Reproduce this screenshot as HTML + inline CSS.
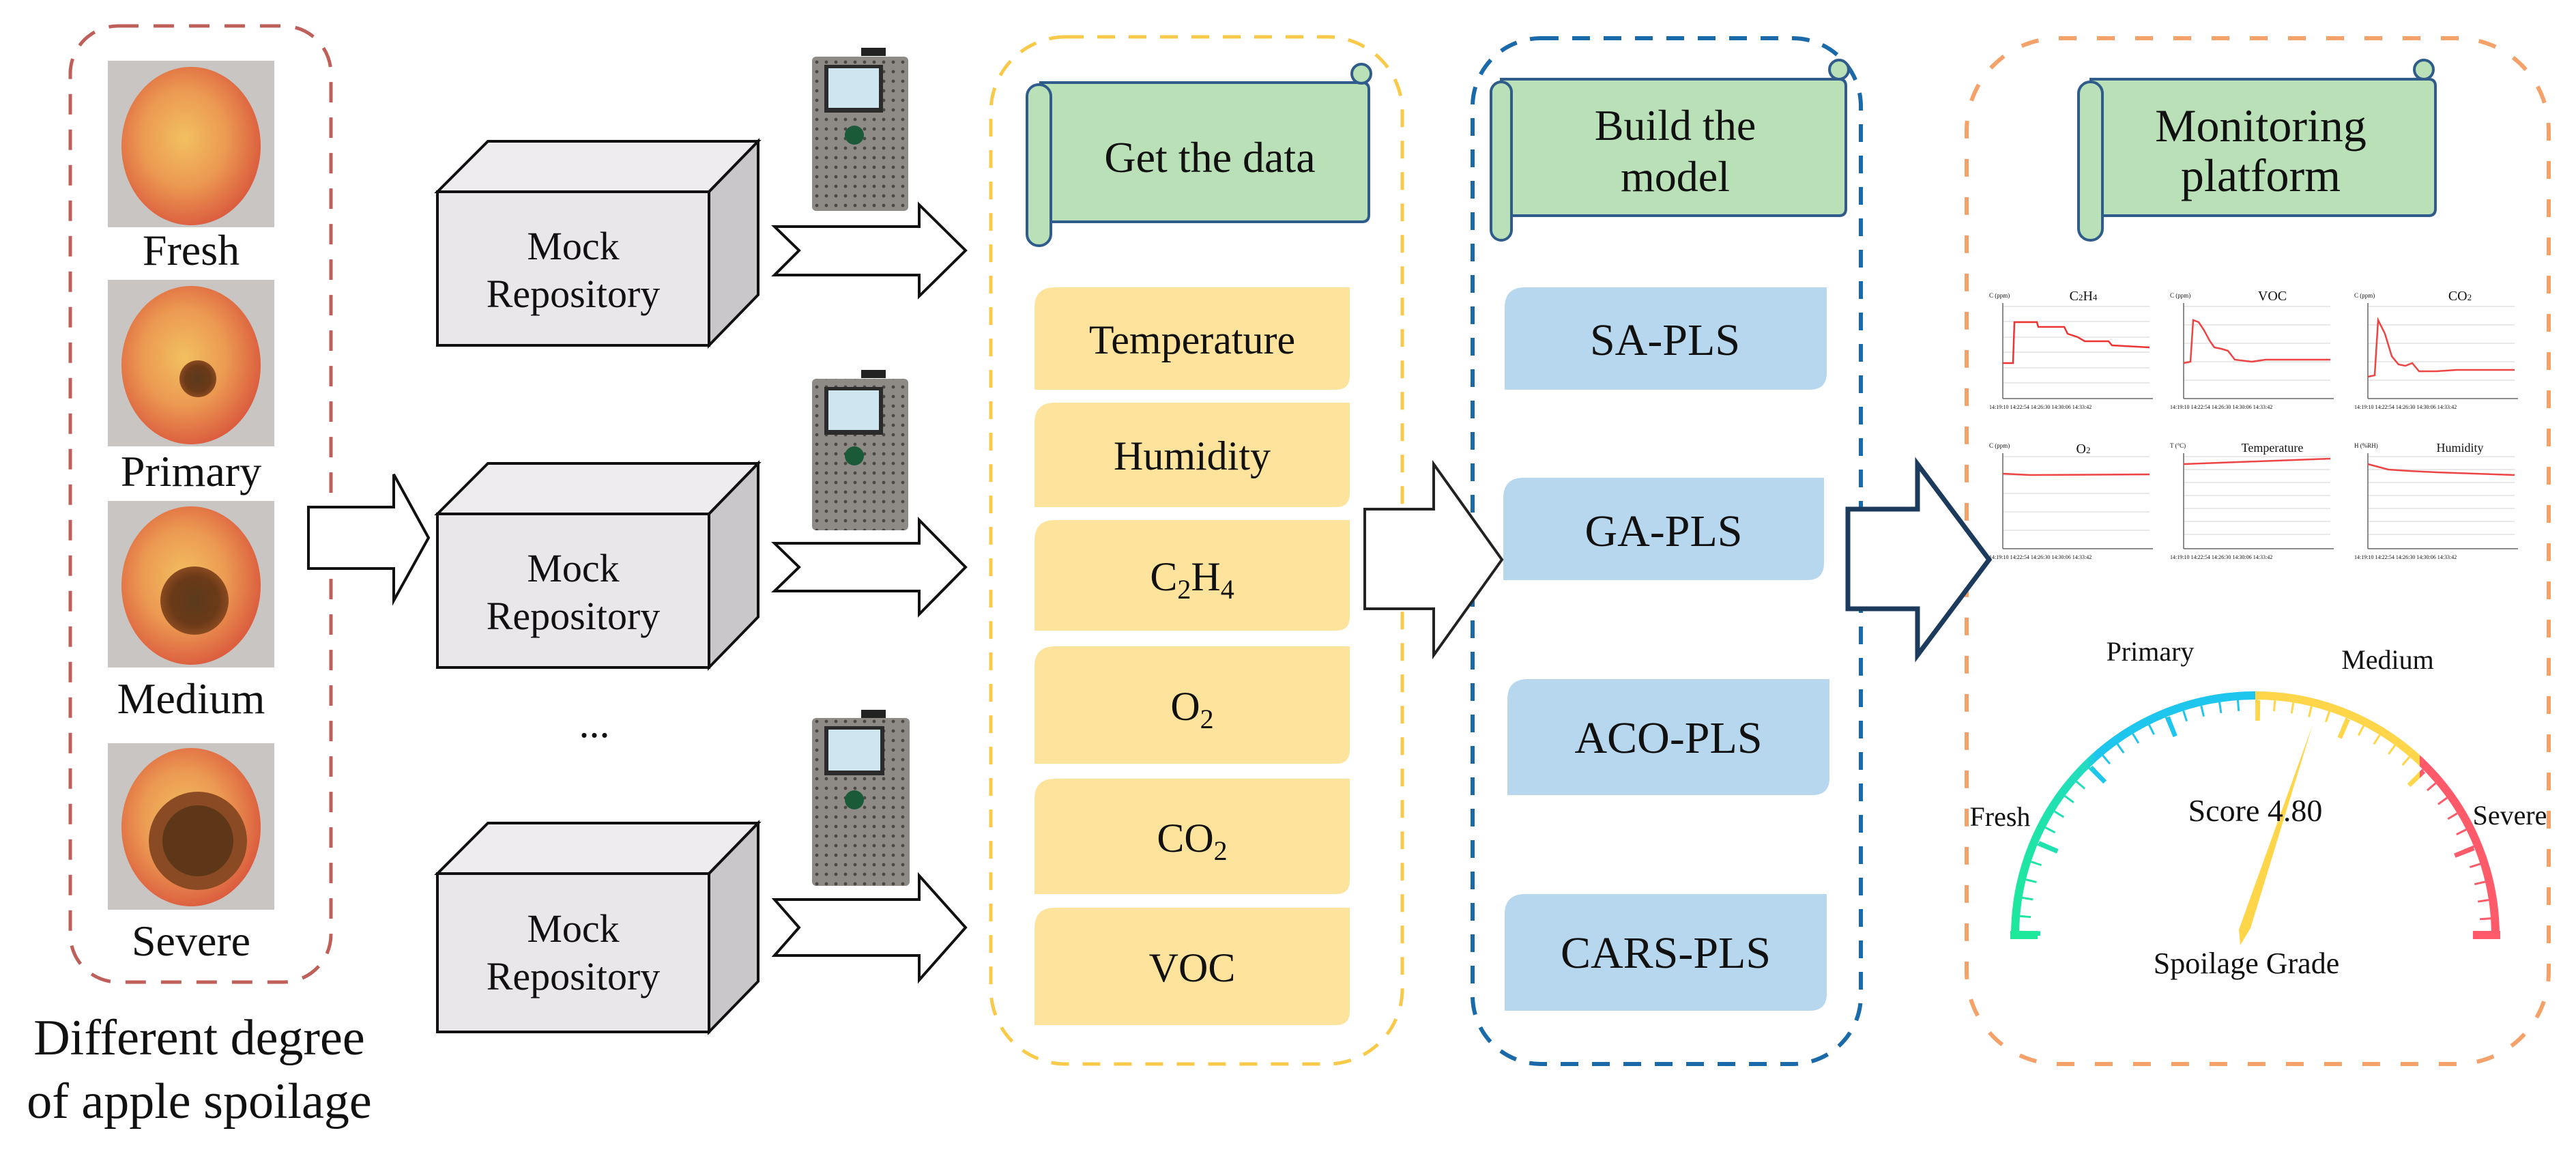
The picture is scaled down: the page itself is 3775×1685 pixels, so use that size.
<!DOCTYPE html>
<html><head><meta charset="utf-8"><style>
html,body{margin:0;padding:0;background:#fff;}
svg{display:block;}
text{font-family:"Liberation Serif",serif;fill:#111;}
</style></head><body>
<svg width="3775" height="1685" viewBox="0 0 3775 1685" xmlns="http://www.w3.org/2000/svg">
<defs>
<radialGradient id="ap" cx="0.45" cy="0.45" r="0.6">
<stop offset="0" stop-color="#f2c060"/><stop offset="0.5" stop-color="#ec9a52"/><stop offset="1" stop-color="#d9553c"/></radialGradient>
<radialGradient id="sp" cx="0.5" cy="0.5" r="0.5">
<stop offset="0" stop-color="#5a3a1c"/><stop offset="0.7" stop-color="#6b3a18"/><stop offset="1" stop-color="#8a4a20"/></radialGradient>
<pattern id="dots" width="14" height="14" patternUnits="userSpaceOnUse"><rect width="14" height="14" fill="#8e8a86"/><circle cx="7" cy="7" r="2.4" fill="#4a4744"/></pattern>
<linearGradient id="gg" gradientUnits="userSpaceOnUse" x1="2940" y1="0" x2="3670" y2="0">
<stop offset="0" stop-color="#1ee89a"/><stop offset="0.16" stop-color="#22dcc0"/><stop offset="0.18" stop-color="#1ec6ee"/><stop offset="0.5" stop-color="#1ec6ee"/><stop offset="0.5" stop-color="#ffd54a"/><stop offset="0.83" stop-color="#ffd54a"/><stop offset="0.83" stop-color="#ff5a6a"/><stop offset="1" stop-color="#ff5a6a"/></linearGradient>
</defs>

<rect x="103" y="38" width="382" height="1401" rx="70" fill="none" stroke="#bf5f5a" stroke-width="5" stroke-dasharray="30 22"/>

<g>
<rect x="158" y="89" width="244" height="244" fill="#c9c5c3"/>
<ellipse cx="280" cy="214" rx="102" ry="116" fill="url(#ap)"/>
<rect x="158" y="410" width="244" height="244" fill="#c9c5c3"/>
<ellipse cx="280" cy="535" rx="102" ry="116" fill="url(#ap)"/>
<circle cx="290" cy="555" r="27" fill="url(#sp)"/>
<rect x="158" y="734" width="244" height="244" fill="#c9c5c3"/>
<ellipse cx="280" cy="858" rx="102" ry="116" fill="url(#ap)"/>
<circle cx="285" cy="880" r="50" fill="url(#sp)"/>
<rect x="158" y="1089" width="244" height="244" fill="#c9c5c3"/>
<ellipse cx="280" cy="1212" rx="102" ry="116" fill="url(#ap)"/>
<circle cx="290" cy="1232" r="72" fill="#8a4a24"/>
<circle cx="290" cy="1232" r="52" fill="#5e3618"/>
</g>
<text x="280" y="388" font-size="64" text-anchor="middle">Fresh</text>
<text x="280" y="712" font-size="64" text-anchor="middle">Primary</text>
<text x="280" y="1045" font-size="64" text-anchor="middle">Medium</text>
<text x="280" y="1400" font-size="64" text-anchor="middle">Severe</text>
<text x="292" y="1545" font-size="74" text-anchor="middle">Different degree</text>
<text x="292" y="1638" font-size="74" text-anchor="middle">of apple spoilage</text>

<polygon points="452,743 577,743 577,695 628,788 577,880 577,833 452,833" fill="#fff" stroke="#111" stroke-width="4"/>

<g stroke="#111" stroke-width="4" stroke-linejoin="miter">
<polygon points="641,281 715,207 1111,207 1039,281" fill="#eeecee"/>
<polygon points="1039,281 1111,207 1111,432 1039,506" fill="#c9c7c9"/>
<rect x="641" y="281" width="398" height="225" fill="#e9e7e9"/>
<polygon points="641,753 715,679 1111,679 1039,753" fill="#eeecee"/>
<polygon points="1039,753 1111,679 1111,904 1039,978" fill="#c9c7c9"/>
<rect x="641" y="753" width="398" height="225" fill="#e9e7e9"/>
<polygon points="641,1280 715,1206 1111,1206 1039,1280" fill="#eeecee"/>
<polygon points="1039,1280 1111,1206 1111,1438 1039,1512" fill="#c9c7c9"/>
<rect x="641" y="1280" width="398" height="232" fill="#e9e7e9"/>
</g>
<g font-size="58" text-anchor="middle">
<text x="840" y="380">Mock</text><text x="840" y="450">Repository</text>
<text x="840" y="852">Mock</text><text x="840" y="922">Repository</text>
<text x="840" y="1380">Mock</text><text x="840" y="1450">Repository</text>
</g>
<text x="871" y="1080" font-size="60" text-anchor="middle">...</text>

<g>
<rect x="1262" y="70" width="36" height="12" fill="#222"/>
<rect x="1190" y="83" width="141" height="226" rx="6" fill="url(#dots)"/>
<rect x="1208" y="95" width="86" height="70" fill="#2b2b2b"/><rect x="1214" y="100" width="74" height="58" fill="#cfe6f0"/>
<circle cx="1252" cy="198" r="14" fill="#1b5a38"/>
</g>
<g>
<rect x="1262" y="542" width="36" height="12" fill="#222"/>
<rect x="1190" y="555" width="141" height="222" rx="6" fill="url(#dots)"/>
<rect x="1208" y="567" width="86" height="70" fill="#2b2b2b"/><rect x="1214" y="572" width="74" height="58" fill="#cfe6f0"/>
<circle cx="1252" cy="668" r="14" fill="#1b5a38"/>
</g>
<g>
<rect x="1262" y="1040" width="36" height="12" fill="#222"/>
<rect x="1190" y="1052" width="143" height="246" rx="6" fill="url(#dots)"/>
<rect x="1208" y="1064" width="88" height="72" fill="#2b2b2b"/><rect x="1214" y="1069" width="76" height="60" fill="#cfe6f0"/>
<circle cx="1252" cy="1172" r="14" fill="#1b5a38"/>
</g>

<g fill="#fff" stroke="#111" stroke-width="4" stroke-linejoin="miter">
<polygon points="1135,332 1347,332 1347,300 1415,367 1347,434 1347,403 1135,403 1171,367"/>
<polygon points="1135,796 1347,796 1347,762 1415,831 1347,900 1347,866 1135,866 1171,831"/>
<polygon points="1135,1318 1347,1318 1347,1283 1415,1359 1347,1436 1347,1400 1135,1400 1171,1359"/>
</g>

<rect x="1452" y="54" width="603" height="1505" rx="110" fill="none" stroke="#f9c94a" stroke-width="5" stroke-dasharray="26 20"/>
<g fill="#fde39c">
<path d="M1546 421 H1978 V551 Q1978 571 1958 571 H1516 V451 Q1516 421 1546 421Z"/>
<path d="M1546 590 H1978 V723 Q1978 743 1958 743 H1516 V620 Q1516 590 1546 590Z"/>
<path d="M1546 762 H1978 V904 Q1978 924 1958 924 H1516 V792 Q1516 762 1546 762Z"/>
<path d="M1546 947 H1978 V1099 Q1978 1119 1958 1119 H1516 V977 Q1516 947 1546 947Z"/>
<path d="M1546 1141 H1978 V1290 Q1978 1310 1958 1310 H1516 V1171 Q1516 1141 1546 1141Z"/>
<path d="M1546 1330 H1978 V1482 Q1978 1502 1958 1502 H1516 V1360 Q1516 1330 1546 1330Z"/>
</g>
<g font-size="60" text-anchor="middle">
<text x="1747" y="518">Temperature</text>
<text x="1747" y="688">Humidity</text>
<text x="1747" y="865">C<tspan font-size="40" dy="12">2</tspan><tspan dy="-12">H</tspan><tspan font-size="40" dy="12">4</tspan></text>
<text x="1747" y="1055">O<tspan font-size="40" dy="12">2</tspan></text>
<text x="1747" y="1248">CO<tspan font-size="40" dy="12">2</tspan></text>
<text x="1747" y="1438">VOC</text>
</g>

<rect x="2158" y="56" width="569" height="1503" rx="100" fill="none" stroke="#1a6aaa" stroke-width="6" stroke-dasharray="26 20"/>
<g fill="#b7d7ee">
<path d="M2235 421 H2677 V546 Q2677 571 2652 571 H2205 V451 Q2205 421 2235 421Z"/>
<path d="M2233 700 H2673 V825 Q2673 850 2648 850 H2203 V730 Q2203 700 2233 700Z"/>
<path d="M2239 995 H2681 V1140 Q2681 1165 2656 1165 H2209 V1025 Q2209 995 2239 995Z"/>
<path d="M2235 1310 H2677 V1456 Q2677 1481 2652 1481 H2205 V1340 Q2205 1310 2235 1310Z"/>
</g>
<g font-size="66" text-anchor="middle">
<text x="2440" y="520">SA-PLS</text>
<text x="2438" y="800">GA-PLS</text>
<text x="2445" y="1103">ACO-PLS</text>
<text x="2441" y="1418">CARS-PLS</text>
</g>

<rect x="2882" y="56" width="853" height="1503" rx="135" fill="none" stroke="#f4a26a" stroke-width="6" stroke-dasharray="26 30"/>

<g stroke="#2f5c8a" stroke-width="4" fill="#b9e0b6">
<path d="M1525 121 H1996 Q2006 121 2006 131 V315 Q2006 325 1996 325 H1525 Z"/>
<rect x="1505" y="124" width="35" height="236" rx="17"/>
<circle cx="1995" cy="108" r="14"/>
<path d="M2200 116 H2695 Q2705 116 2705 126 V306 Q2705 316 2695 316 H2200 Z"/>
<rect x="2185" y="120" width="30" height="232" rx="15"/>
<circle cx="2695" cy="102" r="14"/>
<path d="M3064 116 H3559 Q3569 116 3569 126 V306 Q3569 316 3559 316 H3064 Z"/>
<rect x="3046" y="120" width="35" height="232" rx="17"/>
<circle cx="3552" cy="102" r="14"/>
</g>
<text x="1773" y="252" font-size="64" text-anchor="middle">Get the data</text>
<text x="2455" y="205" font-size="64" text-anchor="middle">Build the</text>
<text x="2455" y="280" font-size="64" text-anchor="middle">model</text>
<text x="3313" y="207" font-size="68" text-anchor="middle">Monitoring</text>
<text x="3313" y="280" font-size="68" text-anchor="middle">platform</text>

<polygon points="2000,746 2101,746 2101,680 2201,820 2101,960 2101,892 2000,892" fill="#fff" stroke="#222" stroke-width="4"/>
<polygon points="2708,746 2810,746 2810,680 2915,820 2810,960 2810,892 2708,892" fill="#fff" stroke="#1b3a5c" stroke-width="7"/>

<g font-size="14">
<g transform="translate(2915,424)">
<g stroke="#e2e2e2" stroke-width="1.5"><line x1="20" y1="25" x2="235" y2="25"/><line x1="20" y1="47" x2="235" y2="47"/><line x1="20" y1="70" x2="235" y2="70"/><line x1="20" y1="92" x2="235" y2="92"/><line x1="20" y1="115" x2="235" y2="115"/><line x1="20" y1="137" x2="235" y2="137"/></g>
<line x1="20" y1="20" x2="20" y2="160" stroke="#666" stroke-width="1.5"/><line x1="20" y1="160" x2="240" y2="160" stroke="#666" stroke-width="1.5"/>
<text x="0" y="12" font-size="9">C (ppm)</text><text x="138" y="16" font-size="20" text-anchor="middle">C<tspan font-size="13">2</tspan>H<tspan font-size="13">4</tspan></text>
<text x="0" y="175" font-size="8">14:19:10   14:22:54   14:26:30   14:30:06   14:33:42</text>
<polyline points="20,108 35,108 37,48 70,48 72,55 110,55 115,65 130,70 140,76 175,76 180,82 235,85" fill="none" stroke="#ee3333" stroke-width="2.5"/>
</g>
<g transform="translate(3180,424)">
<g stroke="#e2e2e2" stroke-width="1.5"><line x1="20" y1="25" x2="235" y2="25"/><line x1="20" y1="52" x2="235" y2="52"/><line x1="20" y1="79" x2="235" y2="79"/><line x1="20" y1="106" x2="235" y2="106"/><line x1="20" y1="133" x2="235" y2="133"/></g>
<line x1="20" y1="20" x2="20" y2="160" stroke="#666" stroke-width="1.5"/><line x1="20" y1="160" x2="240" y2="160" stroke="#666" stroke-width="1.5"/>
<text x="0" y="12" font-size="9">C (ppm)</text><text x="150" y="16" font-size="20" text-anchor="middle">VOC</text>
<text x="0" y="175" font-size="8">14:19:10   14:22:54   14:26:30   14:30:06   14:33:42</text>
<polyline points="20,108 30,106 34,45 42,48 50,60 58,75 65,85 75,87 85,90 95,103 120,106 140,103 235,103" fill="none" stroke="#ee4444" stroke-width="2.5"/>
</g>
<g transform="translate(3450,424)">
<g stroke="#e2e2e2" stroke-width="1.5"><line x1="20" y1="25" x2="235" y2="25"/><line x1="20" y1="52" x2="235" y2="52"/><line x1="20" y1="79" x2="235" y2="79"/><line x1="20" y1="106" x2="235" y2="106"/><line x1="20" y1="133" x2="235" y2="133"/></g>
<line x1="20" y1="20" x2="20" y2="160" stroke="#666" stroke-width="1.5"/><line x1="20" y1="160" x2="240" y2="160" stroke="#666" stroke-width="1.5"/>
<text x="0" y="12" font-size="9">C (ppm)</text><text x="155" y="16" font-size="20" text-anchor="middle">CO<tspan font-size="13">2</tspan></text>
<text x="0" y="175" font-size="8">14:19:10   14:22:54   14:26:30   14:30:06   14:33:42</text>
<polyline points="20,128 30,126 35,45 45,65 55,98 65,110 75,112 85,108 95,120 120,120 150,118 235,118" fill="none" stroke="#ee4444" stroke-width="2.5"/>
</g>
<g transform="translate(2915,644)">
<g stroke="#e2e2e2" stroke-width="1.5"><line x1="20" y1="25" x2="235" y2="25"/><line x1="20" y1="52" x2="235" y2="52"/><line x1="20" y1="79" x2="235" y2="79"/><line x1="20" y1="106" x2="235" y2="106"/><line x1="20" y1="133" x2="235" y2="133"/></g>
<line x1="20" y1="20" x2="20" y2="160" stroke="#666" stroke-width="1.5"/><line x1="20" y1="160" x2="240" y2="160" stroke="#666" stroke-width="1.5"/>
<text x="0" y="12" font-size="9">C (ppm)</text><text x="138" y="20" font-size="20" text-anchor="middle">O<tspan font-size="13">2</tspan></text>
<text x="0" y="175" font-size="8">14:19:10   14:22:54   14:26:30   14:30:06   14:33:42</text>
<polyline points="20,50 60,52 235,51" fill="none" stroke="#ee4444" stroke-width="2.5"/>
</g>
<g transform="translate(3180,644)">
<g stroke="#e2e2e2" stroke-width="1.5"><line x1="20" y1="25" x2="235" y2="25"/><line x1="20" y1="44" x2="235" y2="44"/><line x1="20" y1="63" x2="235" y2="63"/><line x1="20" y1="82" x2="235" y2="82"/><line x1="20" y1="101" x2="235" y2="101"/><line x1="20" y1="120" x2="235" y2="120"/><line x1="20" y1="139" x2="235" y2="139"/></g>
<line x1="20" y1="20" x2="20" y2="160" stroke="#666" stroke-width="1.5"/><line x1="20" y1="160" x2="240" y2="160" stroke="#666" stroke-width="1.5"/>
<text x="0" y="12" font-size="9">T (°C)</text><text x="150" y="18" font-size="18" text-anchor="middle">Temperature</text>
<text x="0" y="175" font-size="8">14:19:10   14:22:54   14:26:30   14:30:06   14:33:42</text>
<polyline points="20,36 235,28" fill="none" stroke="#ee4444" stroke-width="2.5"/>
</g>
<g transform="translate(3450,644)">
<g stroke="#e2e2e2" stroke-width="1.5"><line x1="20" y1="25" x2="235" y2="25"/><line x1="20" y1="44" x2="235" y2="44"/><line x1="20" y1="63" x2="235" y2="63"/><line x1="20" y1="82" x2="235" y2="82"/><line x1="20" y1="101" x2="235" y2="101"/><line x1="20" y1="120" x2="235" y2="120"/><line x1="20" y1="139" x2="235" y2="139"/></g>
<line x1="20" y1="20" x2="20" y2="160" stroke="#666" stroke-width="1.5"/><line x1="20" y1="160" x2="240" y2="160" stroke="#666" stroke-width="1.5"/>
<text x="0" y="12" font-size="9">H (%RH)</text><text x="155" y="18" font-size="18" text-anchor="middle">Humidity</text>
<text x="0" y="175" font-size="8">14:19:10   14:22:54   14:26:30   14:30:06   14:33:42</text>
<polyline points="20,36 50,44 80,46 120,48 235,52" fill="none" stroke="#ee4444" stroke-width="2.5"/>
</g>
</g>

<g fill="none" stroke="url(#gg)">
<path d="M2953 1371 A352 352 0 0 1 3657 1371" stroke-width="12"/>
<path d="M2967 1371 A338 338 0 0 1 3643 1371" stroke-width="16" stroke-dasharray="3 23.55"/>
<path d="M2975 1371 A330 330 0 0 1 3635 1371" stroke-width="30" stroke-dasharray="7 122.6"/>
</g>
<rect x="2946" y="1364" width="40" height="12" fill="#1ee89a"/>
<rect x="3624" y="1364" width="40" height="12" fill="#ff5a6a"/>
<polygon points="3283,1385 3281,1362 3389,1062 3298,1360" fill="#ffd54a"/>
<g font-size="40">
<text x="3151" y="968" text-anchor="middle">Primary</text>
<text x="3499" y="980" text-anchor="middle">Medium</text>
<text x="2931" y="1210" text-anchor="middle">Fresh</text>
<text x="3678" y="1208" text-anchor="middle">Severe</text>
<text x="3305" y="1203" font-size="46" text-anchor="middle">Score 4.80</text>
<text x="3292" y="1426" font-size="44" text-anchor="middle">Spoilage Grade</text>
</g>
</svg>
</body></html>
